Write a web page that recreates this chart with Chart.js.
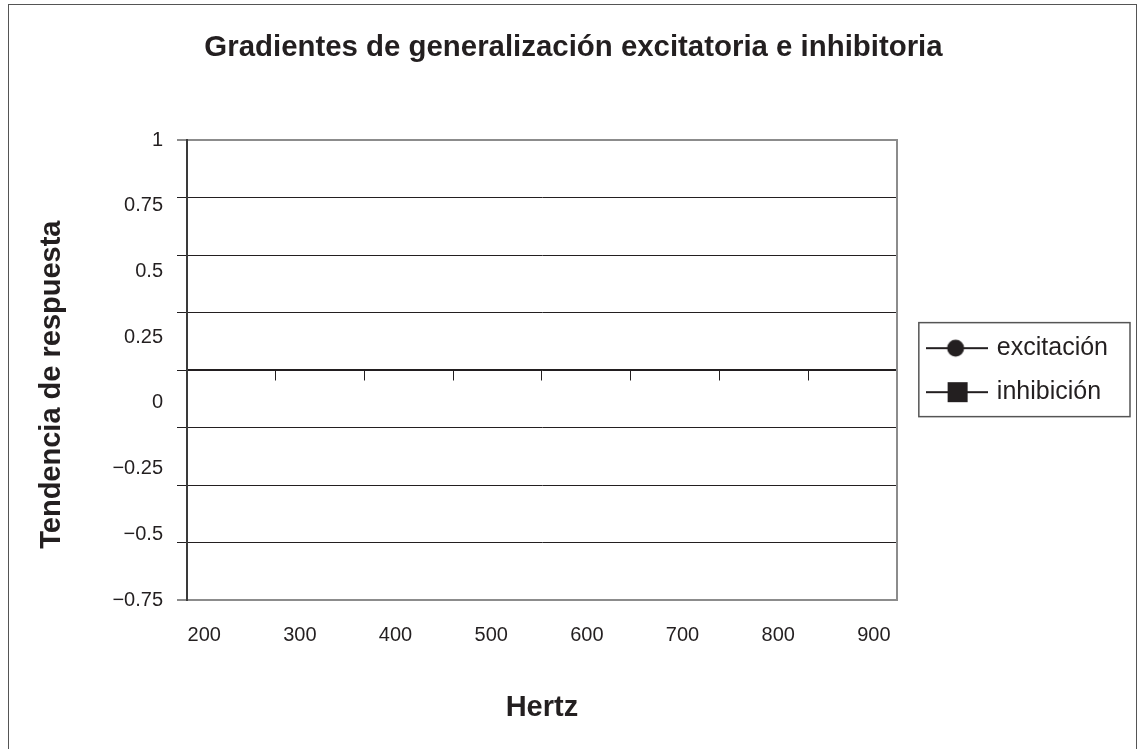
<!DOCTYPE html>
<html>
<head>
<meta charset="utf-8">
<title>Gradientes de generalización</title>
<script src="https://cdn.jsdelivr.net/npm/chart.js@4.4.1/dist/chart.umd.min.js"></script>
<style>
  html, body { margin: 0; padding: 0; background: #fff; overflow: hidden; }
  canvas { position: absolute; left: 0; top: 0; }
  #marco { position: absolute; left: 8px; top: 4px; width: 1129px; height: 760px; border: 1.5px solid #555; box-sizing: border-box; }
</style>
</head>
<body>
<canvas id="gradientes" width="1138" height="749"></canvas>
<div id="marco"></div>
<script>
// categorías del eje X (Hz)
const hertz = [200, 300, 400, 500, 600, 700, 800, 900];

// series: sin valores trazados
const excitacion = [null, null, null, null, null, null, null, null];
const inhibicion = [null, null, null, null, null, null, null, null];

// marcas del eje Y (rótulos) y de la rejilla
const tendenciaTicks = [-0.75, -0.5, -0.25, 0, 0.25, 0.5, 0.75, 1];
const rejillaTicks = [-1, -0.75, -0.5, -0.25, 0, 0.25, 0.5, 0.75, 1];

const tinta = '#231f20';
const gris = '#8c8c8c';

Chart.defaults.font.family = "'Liberation Sans', Arial, sans-serif";
Chart.defaults.color = tinta;

// icono de leyenda: línea con marcador en medio
function marcaLeyenda(forma) {
    const c = document.createElement('canvas');
    c.width = 62;
    c.height = 24;
    const g = c.getContext('2d');
    g.strokeStyle = tinta;
    g.fillStyle = tinta;
    g.lineWidth = 2;
    g.beginPath();
    g.moveTo(0, 12);
    g.lineTo(62, 12);
    g.stroke();
    if (forma === 'circle') {
        g.beginPath();
        g.arc(30, 12, 8.5, 0, Math.PI * 2);
        g.fill();
    } else {
        g.fillRect(22, 2, 20, 20);
    }
    return c;
}
const marcas = [marcaLeyenda('circle'), marcaLeyenda('rect')];

// recuadro alrededor de la leyenda
const marcoLeyenda = {
    id: 'marcoLeyenda',
    afterDraw(chart) {
        const cajas = chart.legend && chart.legend.legendHitBoxes;
        if (!cajas || !cajas.length) return;
        const izq = Math.min(...cajas.map(b => b.left)) - 10;
        const arr = Math.min(...cajas.map(b => b.top)) - 13;
        const der = Math.max(...cajas.map(b => b.left + b.width)) + 22;
        const aba = Math.max(...cajas.map(b => b.top + b.height)) + 12;
        const ctx = chart.ctx;
        ctx.save();
        ctx.strokeStyle = '#555';
        ctx.lineWidth = 1.5;
        ctx.strokeRect(izq, arr, der - izq, aba - arr);
        ctx.restore();
    }
};

const esBorde = c => c.tick && Math.abs(c.tick.value) === 1;

new Chart(document.getElementById('gradientes').getContext('2d'), {
    type: 'line',
    data: {
        labels: hertz.map(String),
        datasets: [{
            label: 'excitación',
            data: excitacion,
            borderColor: tinta,
            backgroundColor: tinta,
            pointStyle: 'circle',
            xAxisID: 'x',
            yAxisID: 'y'
        }, {
            label: 'inhibición',
            data: inhibicion,
            borderColor: tinta,
            backgroundColor: tinta,
            pointStyle: 'rect',
            xAxisID: 'x',
            yAxisID: 'y'
        }]
    },
    options: {
        responsive: false,
        animation: false,
        devicePixelRatio: 1,
        events: [],
        layout: { padding: { left: 29, right: 20, top: 0, bottom: 4 } },
        plugins: {
            title: {
                display: true,
                text: 'Gradientes de generalización excitatoria e inhibitoria',
                color: tinta,
                font: { size: 29.4, weight: 'bold' },
                padding: { top: 30, bottom: 75 }
            },
            legend: {
                position: 'right',
                align: 'center',
                fullSize: false,
                maxWidth: 300,
                labels: {
                    usePointStyle: true,
                    pointStyleWidth: 55.5,
                    padding: 19,
                    color: tinta,
                    font: { size: 25 },
                    generateLabels: chart => chart.data.datasets.map((ds, i) => ({
                        text: ds.label,
                        pointStyle: marcas[i],
                        datasetIndex: i,
                        fontColor: tinta,
                        fillStyle: 'transparent',
                        strokeStyle: 'transparent',
                        lineWidth: 0,
                        hidden: false
                    }))
                }
            },
            tooltip: { enabled: false }
        },
        scales: {
            // eje horizontal en y = 0, sólo con marcas de división
            x: {
                type: 'category',
                position: { yGrid: 0 },
                offset: true,
                afterFit: s => { s.height = 0; },
                grid: { offset: true, drawOnChartArea: false, tickLength: 10, color: tinta, lineWidth: 1 },
                ticks: { display: false },
                border: { color: tinta, width: 1.5 }
            },
            // rótulos de Hz bajo el área de trazado
            xLab: {
                type: 'linear',
                position: 'bottom',
                min: 182,
                max: 924,
                afterBuildTicks: s => { s.ticks = hertz.map(v => ({ value: v })); },
                afterFit: s => { s.height = 145; },
                grid: { display: false, drawTicks: false },
                border: { display: false },
                ticks: { padding: 23, color: tinta, font: { size: 20 }, maxRotation: 0, autoSkip: false },
                title: {
                    display: true,
                    text: 'Hertz',
                    color: tinta,
                    font: { size: 29, weight: 'bold' },
                    padding: { top: 43, bottom: 20 }
                }
            },
            // rótulos del eje Y
            y: {
                type: 'linear',
                position: 'left',
                weight: 1,
                min: tendenciaTicks[0],
                max: tendenciaTicks[tendenciaTicks.length - 1],
                afterBuildTicks: s => { s.ticks = tendenciaTicks.map(v => ({ value: v })); },
                afterFit: s => { s.width = 148; },
                grid: { display: false, drawTicks: false },
                border: { display: false },
                ticks: {
                    padding: 14,
                    color: tinta,
                    font: { size: 20 },
                    callback: v => v < 0 ? '\u2212' + Math.abs(v) : String(v)
                },
                title: {
                    display: true,
                    text: 'Tendencia de respuesta\u2003',
                    color: tinta,
                    font: { size: 29, weight: 'bold' },
                    padding: { top: 6, bottom: 0 }
                }
            },
            // rejilla horizontal y línea izquierda
            yGrid: {
                type: 'linear',
                position: 'left',
                weight: 0,
                min: rejillaTicks[0],
                max: rejillaTicks[rejillaTicks.length - 1],
                afterBuildTicks: s => { s.ticks = rejillaTicks.map(v => ({ value: v })); },
                ticks: { display: false },
                grid: {
                    tickLength: 10,
                    color: c => esBorde(c) ? gris : tinta,
                    lineWidth: c => esBorde(c) ? 2 : 1
                },
                border: { color: '#3a3a3a', width: 2 }
            },
            // borde derecho del área de trazado
            yRight: {
                type: 'linear',
                position: 'right',
                min: -1,
                max: 1,
                afterFit: s => { s.width = 13; },
                grid: { display: false, drawTicks: false },
                ticks: { display: false },
                border: { color: gris, width: 2 }
            }
        }
    },
    plugins: [marcoLeyenda]
});
</script>
</body>
</html>
